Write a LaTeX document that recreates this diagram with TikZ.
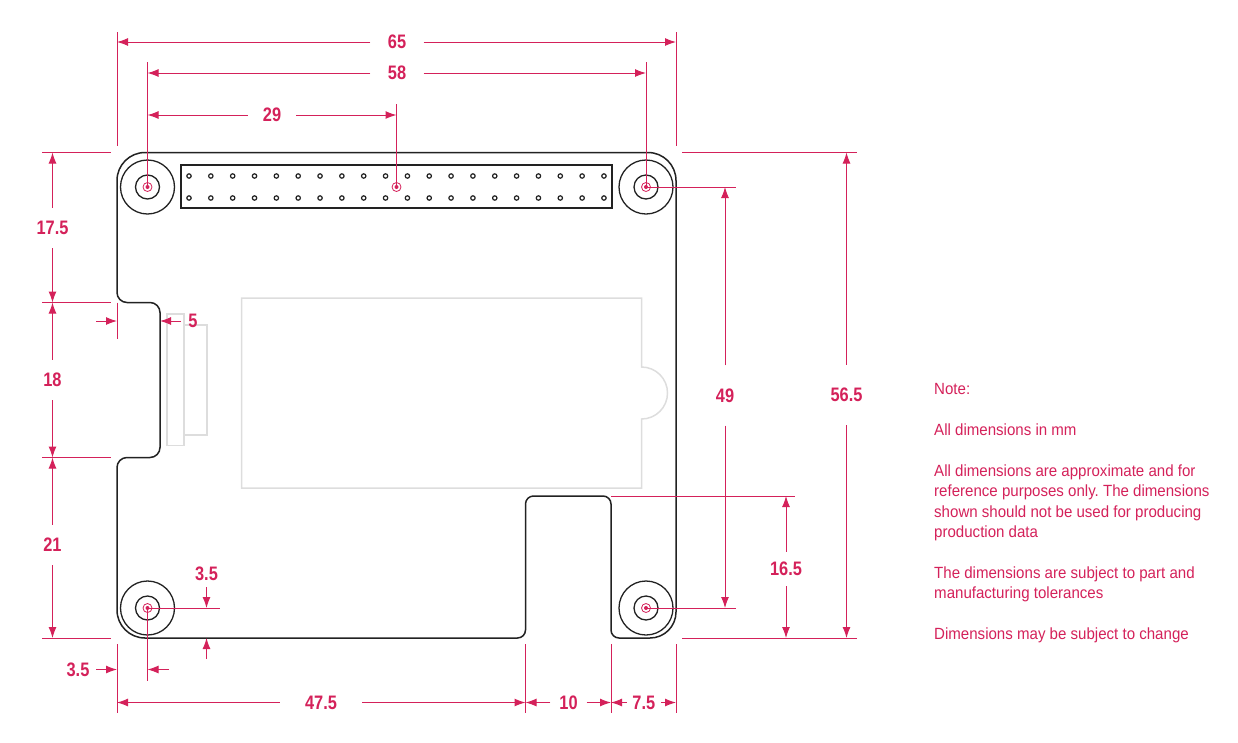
\documentclass[tikz,border=0pt]{standalone}
\usepackage{fontspec}
\setmainfont{Liberation Sans}[FakeStretch=0.93]
\newfontfamily\dimfont{Liberation Sans}[FakeStretch=0.84]
\usetikzlibrary{arrows.meta}
\definecolor{dimred}{HTML}{D4215A}
\definecolor{partgrey}{HTML}{DDDDDD}
\definecolor{boardblack}{HTML}{222222}
\frenchspacing
\tikzset{
	boardline/.style={boardblack,line width=1.5pt},
	partline/.style={partgrey,line width=1.5pt},
	extline/.style={dimred,line width=1pt},
	dimarrow/.style={dimred,line width=1pt,-{Latex[length=11pt,width=8pt]}},
	dimlabel/.style={text=dimred,font=\dimfont\bfseries\fontsize{19.5}{20}\selectfont,inner sep=0pt,anchor=center},
	holemark/.style={dimred,line width=0.8pt},
}

\begin{document}
\begin{tikzpicture}[x=1pt,y=-1pt]
	\useasboundingbox (0,0) rectangle (1238,742);

	% reference points of the board
	\coordinate (boardTL) at (117,152.5);
	\coordinate (boardBR) at (676,638);
	\coordinate (notchT) at (117,302.5);
	\coordinate (notchB) at (117,457.5);
	\coordinate (notchIn) at (160,321);
	\coordinate (slotL) at (525.5,638);
	\coordinate (slotR) at (611,638);
	\coordinate (slotT) at (611,496);
	\coordinate (holeTL) at (147.5,187);
	\coordinate (holeTR) at (646,187);
	\coordinate (holeBL) at (147.5,608);
	\coordinate (holeBR) at (646,608);
	\coordinate (pinMid) at (396.5,187);

	% greyed parts
	\draw[partline] (241.5,298) -- (641.5,298) -- (641.5,367) arc (-90:90:26) -- (641.5,488) -- (241.5,488) -- cycle;
	\draw[partline] (184,325) rectangle (207,435);
	\draw[partline] (167,314) rectangle (184,445.5);

	% board outline
	\draw[boardline] (117,180.5) arc (180:270:28) -- (648,152.5) arc (270:360:28)
		-- (676,612) arc (0:90:26) -- (619,638) arc (90:180:8) -- (611,504) arc (0:-90:8)
		-- (533.5,496) arc (270:180:8) -- (525.5,630) arc (0:90:8) -- (145,638) arc (90:180:28)
		-- (117,467.5) arc (180:270:10) -- (150,457.5) arc (90:0:10) -- (160,312.5) arc (0:-90:10)
		-- (127,302.5) arc (90:180:10) -- cycle;

	% header
	\draw[boardblack,line width=1.3pt] (181,165) rectangle (612,208);
	\foreach \col in {0,...,19}
	{
		\draw[boardblack,line width=1.2pt] (189+\col*21.84,176) circle (2.2);
		\draw[boardblack,line width=1.2pt] (189+\col*21.84,198) circle (2.2);
	}

	% mounting holes
	\foreach \hole in {holeTL,holeTR,holeBL,holeBR}
	{
		\draw[boardblack,line width=1.3pt] (\hole) circle (27);
		\draw[boardblack,line width=1.3pt] (\hole) circle (12);
		\draw[holemark] (\hole) circle (4.5);
		\fill[dimred] (\hole) circle (2);
	}
	\draw[holemark] (pinMid) circle (4.5);
	\fill[dimred] (pinMid) circle (2);

	% top dimensions
	\node[dimlabel,minimum width=53] (dimW) at (397,42) {65};
	\node[dimlabel,minimum width=53] (dimHoles) at (397,73) {58};
	\node[dimlabel,minimum width=48] (dimHalf) at (272,115) {29};
	\draw[extline] (117,32) -- (117,146);
	\draw[extline] (676,32) -- (676,146);
	\draw[extline] (147.5,62) -- (holeTL);
	\draw[extline] (646,62) -- (holeTR);
	\draw[extline] (396.5,104) -- (pinMid);
	\draw[dimarrow] (dimW.west) -- (dimW -| boardTL);
	\draw[dimarrow] (dimW.east) -- (dimW -| boardBR);
	\draw[dimarrow] (dimHoles.west) -- (dimHoles -| holeTL);
	\draw[dimarrow] (dimHoles.east) -- (dimHoles -| holeTR);
	\draw[dimarrow] (dimHalf.west) -- (dimHalf -| holeTL);
	\draw[dimarrow] (dimHalf.east) -- (dimHalf -| pinMid);

	% left dimensions
	\node[dimlabel,minimum height=40] (dimTop) at (52.5,228) {17.5};
	\node[dimlabel,minimum height=40] (dimNotch) at (52.5,380) {18};
	\node[dimlabel,minimum height=40] (dimLow) at (52.5,545) {21};
	\foreach \edge in {boardTL,notchT,notchB}
		\draw[extline] (\edge -| 42,0) -- (\edge -| 111,0);
	\draw[extline] (42,638) -- (111,638);
	\draw[dimarrow] (dimTop.north) -- (dimTop |- boardTL);
	\draw[dimarrow] (dimTop.south) -- (dimTop |- notchT);
	\draw[dimarrow] (dimNotch.north) -- (dimNotch |- notchT);
	\draw[dimarrow] (dimNotch.south) -- (dimNotch |- notchB);
	\draw[dimarrow] (dimLow.north) -- (dimLow |- notchB);
	\draw[dimarrow] (dimLow.south) -- (dimLow |- boardBR);

	% notch depth
	\node[dimlabel] (dimDepth) at (193,321) {5};
	\coordinate (depthL) at (96,321);
	\coordinate (depthR) at (181,321);
	\draw[extline] (117,302.5) -- (117,339);
	\draw[dimarrow] (depthL) -- (depthL -| boardTL);
	\draw[dimarrow] (depthR) -- (notchIn);

	% right dimensions
	\node[dimlabel,minimum height=60] (dimHoleH) at (725,395.5) {49};
	\node[dimlabel,minimum height=60] (dimH) at (846.5,395) {56.5};
	\node[dimlabel,minimum height=34] (dimSlot) at (786,569) {16.5};
	\draw[extline] (holeTR) -- (736,187);
	\draw[extline] (holeBR) -- (736,608);
	\draw[extline] (682,152.5) -- (857,152.5);
	\draw[extline] (682,638) -- (857,638);
	\draw[extline] (slotT) -- (795,496);
	\draw[dimarrow] (dimHoleH.north) -- (dimHoleH |- holeTR);
	\draw[dimarrow] (dimHoleH.south) -- (dimHoleH |- holeBR);
	\draw[dimarrow] (dimH.north) -- (dimH |- boardTL);
	\draw[dimarrow] (dimH.south) -- (dimH |- boardBR);
	\draw[dimarrow] (dimSlot.north) -- (dimSlot |- slotT);
	\draw[dimarrow] (dimSlot.south) -- (dimSlot |- boardBR);

	% hole offsets, bottom left
	\node[dimlabel] (dimOffY) at (206.5,574) {3.5};
	\node[dimlabel] (dimOffX) at (78,670) {3.5};
	\coordinate (offYT) at (206.5,587);
	\coordinate (offYB) at (206.5,659);
	\coordinate (offXL) at (96,669.5);
	\coordinate (offXR) at (169,669.5);
	\draw[extline] (holeBL) -- (220,608);
	\draw[extline] (holeBL) -- (147.5,681);
	\draw[dimarrow] (offYT) -- (offYT |- holeBL);
	\draw[dimarrow] (offYB) -- (offYB |- boardBR);
	\draw[dimarrow] (offXL) -- (offXL -| boardTL);
	\draw[dimarrow] (offXR) -- (offXR -| holeBL);

	% bottom dimensions
	\node[dimlabel,minimum width=82] (dimBotA) at (321,702.5) {47.5};
	\node[dimlabel,minimum width=36] (dimBotB) at (568.5,702.5) {10};
	\node[dimlabel,minimum width=34] (dimBotC) at (643.8,702.5) {7.5};
	\foreach \xpos in {117,525.5,611,676}
		\draw[extline] (\xpos,644) -- (\xpos,713);
	\draw[dimarrow] (dimBotA.west) -- (dimBotA -| boardTL);
	\draw[dimarrow] (dimBotA.east) -- (dimBotA -| slotL);
	\draw[dimarrow] (dimBotB.west) -- (dimBotB -| slotL);
	\draw[dimarrow] (dimBotB.east) -- (dimBotB -| slotR);
	\draw[dimarrow] (dimBotC.west) -- (dimBotC -| slotR);
	\draw[dimarrow] (dimBotC.east) -- (dimBotC -| boardBR);

	% notes
	\node[text=dimred,font=\frenchspacing\fontsize{16.2}{20.4}\selectfont,align=left,anchor=north west,inner sep=0pt] (note) at (934,383.5) {
		Note:\\[20.4pt]
		All dimensions in mm\\[20.4pt]
		All dimensions are approximate and for\\
		reference purposes only. The dimensions\\
		shown should not be used for producing\\
		production data\\[20.4pt]
		The dimensions are subject to part and\\
		manufacturing tolerances\\[20.4pt]
		Dimensions may be subject to change};
\end{tikzpicture}
\end{document}
